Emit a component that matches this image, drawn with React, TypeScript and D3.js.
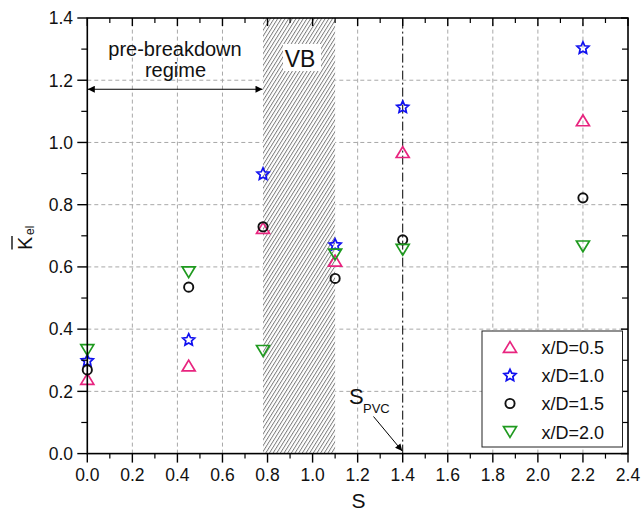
import React from "react";
import * as d3 from "d3";

const sValues = [0, 0.45, 0.78, 1.1, 1.4, 2.2];
const xd05 = [0.24, 0.283, 0.725, 0.62, 0.969, 1.071];
const xd10 = [0.3, 0.367, 0.9, 0.672, 1.115, 1.305];
const xd15 = [0.269, 0.535, 0.729, 0.563, 0.687, 0.822];
const xd20 = [0.333, 0.583, 0.33, 0.64, 0.655, 0.666];

const seriesNames = ["x/D=0.5", "x/D=1.0", "x/D=1.5", "x/D=2.0"];
const seriesColors = ["#e8247f", "#1010f0", "#111111", "#1f9a1f"];
const seriesShapes = ["up", "star", "circle", "down"];
const seriesData = [xd05, xd10, xd15, xd20];

const xMajor = [0, 0.2, 0.4, 0.6, 0.8, 1.0, 1.2, 1.4, 1.6, 1.8, 2.0, 2.2, 2.4];
const yMajor = [0, 0.2, 0.4, 0.6, 0.8, 1.0, 1.2, 1.4];
const vbRange = [0.78, 1.1];
const sPVC = 1.4;
const arrowLevel = 1.171;

const W = 642;
const H = 513;
const FONT = "'Liberation Sans', Arial, Helvetica, sans-serif";

const x = d3.scaleLinear().domain([0, 2.4]).range([87.3, 628]);
const y = d3.scaleLinear().domain([0, 1.4]).range([453.6, 18]);

function starPath(R: number, r: number) {
  const pts: [number, number][] = [];
  for (let i = 0; i < 10; i++) {
    const a = (Math.PI / 5) * i - Math.PI / 2;
    const rad = i % 2 === 0 ? R : r;
    pts.push([Math.cos(a) * rad, Math.sin(a) * rad]);
  }
  return d3.line()(pts as any) + "Z";
}

function Marker({ shape, color, cx, cy }: { shape: string; color: string; cx: number; cy: number }) {
  const sw = 1.7;
  if (shape === "circle") {
    return <circle cx={cx} cy={cy} r={4.6} fill="none" stroke={color} strokeWidth={sw + 0.2} />;
  }
  if (shape === "up") {
    const w = 13, h = 10.8;
    const p = `M${cx},${cy - h / 2}L${cx + w / 2},${cy + h / 2}L${cx - w / 2},${cy + h / 2}Z`;
    return <path d={p} fill="none" stroke={color} strokeWidth={sw} strokeLinejoin="miter" />;
  }
  if (shape === "down") {
    const w = 13, h = 10.8;
    const p = `M${cx},${cy + h / 2}L${cx + w / 2},${cy - h / 2}L${cx - w / 2},${cy - h / 2}Z`;
    return <path d={p} fill="none" stroke={color} strokeWidth={sw} strokeLinejoin="miter" />;
  }
  return (
    <path
      d={starPath(6.3, 3.0)}
      transform={`translate(${cx},${cy + 0.6})`}
      fill="none"
      stroke={color}
      strokeWidth={sw}
      strokeLinejoin="miter"
    />
  );
}

export default function App() {
  const x0 = x(0), x1 = x(2.4), y0 = y(0), y1 = y(1.4);
  const xMinor = d3.range(0.1, 2.4, 0.2);
  const yMinor = d3.range(0.1, 1.4, 0.2);
  const legendRows = [347, 375, 403.5, 432];

  return (
    <svg
      width={W}
      height={H}
      style={{ position: "absolute", left: 0, top: 0, background: "#fff" }}
      fontFamily={FONT}
    >
      <defs>
        <pattern id="hatch" width="3.1" height="6" patternUnits="userSpaceOnUse" patternTransform="rotate(32)">
          <rect width="3.1" height="6" fill="#fff" />
          <line x1="0.5" y1="0" x2="0.5" y2="6" stroke="#4a4a4a" strokeWidth="0.75" />
        </pattern>
        <marker id="ah" viewBox="0 0 10 10" refX="10" refY="5" markerWidth="11" markerHeight="7" markerUnits="userSpaceOnUse" orient="auto-start-reverse">
          <path d="M0,0L10,5L0,10Z" fill="#000" />
        </marker>
      </defs>
      <rect x={0} y={0} width={W} height={H} fill="#fff" />

      {/* grid */}
      {xMajor.filter((v) => v > 0 && v < 2.4 && v !== sPVC).map((v) => (
        <line key={"gx" + v} x1={x(v)} x2={x(v)} y1={y0} y2={y1} stroke="#a8a8a8" strokeWidth={1} strokeDasharray="4,3" />
      ))}
      {yMajor.filter((v) => v > 0 && v < 1.4).map((v) => (
        <line key={"gy" + v} x1={x0} x2={x1} y1={y(v)} y2={y(v)} stroke="#a8a8a8" strokeWidth={1} strokeDasharray="4,3" />
      ))}

      {/* VB hatched region */}
      <rect x={x(vbRange[0])} y={y1} width={x(vbRange[1]) - x(vbRange[0])} height={y0 - y1} fill="url(#hatch)" />
      <rect x={283} y={44} width={38} height={27} fill="#fff" />
      <text x={(x(vbRange[0]) + x(vbRange[1])) / 2 + 1} y={66.5} fontSize={23} textAnchor="middle" fill="#111">VB</text>

      {/* S_PVC dash-dot line */}
      <line x1={x(sPVC)} x2={x(sPVC)} y1={y0} y2={y1} stroke="#000" strokeWidth={1} strokeDasharray="9,3,2,3" />

      {/* pre-breakdown regime */}
      <text x={175} y={55.5} fontSize={20} textAnchor="middle" fill="#111">pre-breakdown</text>
      <text x={175.5} y={77} fontSize={20} textAnchor="middle" fill="#111">regime</text>
      <line x1={x(0) + 0.5} x2={x(vbRange[0]) - 0.5} y1={y(arrowLevel)} y2={y(arrowLevel)} stroke="#000" strokeWidth={1} markerStart="url(#ah)" markerEnd="url(#ah)" />

      {/* S_PVC annotation */}
      <text x={349} y={403.5} fontSize={22} fill="#111">
        S
      </text>
      <text x={363} y={412.5} fontSize={13} fill="#111">PVC</text>
      <line x1={373.5} y1={416.5} x2={x(sPVC) - 0.5} y2={451} stroke="#000" strokeWidth={1} markerEnd="url(#ah)" />

      {/* data */}
      {seriesData.map((arr, si) =>
        arr.map((v, i) => (
          <Marker key={si + "-" + i} shape={seriesShapes[si]} color={seriesColors[si]} cx={x(sValues[i])} cy={y(v)} />
        ))
      )}

      {/* frame */}
      <rect x={x0} y={y1} width={x1 - x0} height={y0 - y1} fill="none" stroke="#000" strokeWidth={1.6} />

      {/* ticks bottom & top */}
      {xMajor.map((v) => (
        <g key={"tx" + v}>
          <line x1={x(v)} x2={x(v)} y1={y0} y2={y0 + 9} stroke="#000" strokeWidth={1.4} />
          <line x1={x(v)} x2={x(v)} y1={y1} y2={y1 + 8} stroke="#000" strokeWidth={1.4} />
          <text x={x(v)} y={481} fontSize={17.5} textAnchor="middle" fill="#111">{v.toFixed(1)}</text>
        </g>
      ))}
      {xMinor.map((v) => (
        <g key={"mx" + v}>
          <line x1={x(v)} x2={x(v)} y1={y0} y2={y0 + 5} stroke="#000" strokeWidth={1.2} />
          <line x1={x(v)} x2={x(v)} y1={y1} y2={y1 + 5} stroke="#000" strokeWidth={1.2} />
        </g>
      ))}
      {/* ticks left & right */}
      {yMajor.map((v) => (
        <g key={"ty" + v}>
          <line x1={x0 - 10} x2={x0} y1={y(v)} y2={y(v)} stroke="#000" strokeWidth={1.4} />
          <line x1={x1 - 7} x2={x1} y1={y(v)} y2={y(v)} stroke="#000" strokeWidth={1.4} />
          <text x={73} y={y(v) + 6.3} fontSize={17.5} textAnchor="end" fill="#111">{v.toFixed(1)}</text>
        </g>
      ))}
      {yMinor.map((v) => (
        <g key={"my" + v}>
          <line x1={x0 - 6} x2={x0} y1={y(v)} y2={y(v)} stroke="#000" strokeWidth={1.2} />
          <line x1={x1 - 6} x2={x1} y1={y(v)} y2={y(v)} stroke="#000" strokeWidth={1.2} />
        </g>
      ))}

      {/* axis labels */}
      <text x={358.5} y={508} fontSize={21} textAnchor="middle" fill="#111">S</text>
      <g transform="translate(32,250) rotate(-90)">
        <text x={0} y={0} fontSize={20} fill="#111">K</text>
        <line x1={0.5} x2={14} y1={-20} y2={-20} stroke="#111" strokeWidth={1.4} />
        <text x={15} y={1.5} fontSize={12} fill="#111">el</text>
      </g>

      {/* legend */}
      <rect x={482} y={331} width={140.5} height={116} fill="#fff" stroke="#222" strokeWidth={1} />
      {seriesNames.map((name, i) => (
        <g key={name}>
          <Marker shape={seriesShapes[i]} color={seriesColors[i]} cx={510} cy={legendRows[i]} />
          <text x={541.5} y={legendRows[i] + 6.5} fontSize={18} fill="#111">{name}</text>
        </g>
      ))}
    </svg>
  );
}
